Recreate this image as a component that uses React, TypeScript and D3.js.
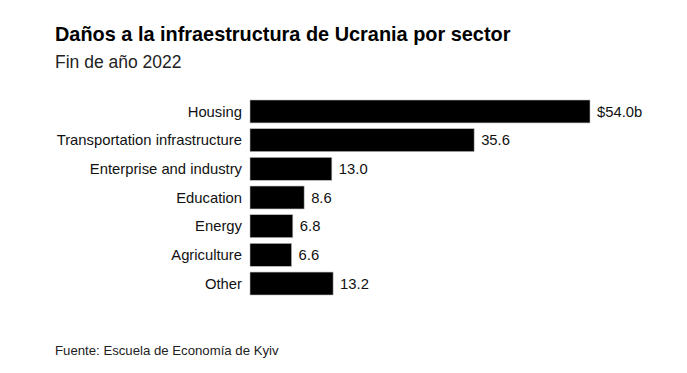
import React, { useEffect, useRef } from 'react';
import * as d3 from 'd3';

const categories = ['Housing', 'Transportation infrastructure', 'Enterprise and industry', 'Education', 'Energy', 'Agriculture', 'Other'];
const values = [54.0, 35.6, 13.0, 8.6, 6.8, 6.6, 13.2];
const valueLabels = ['$54.0b', '35.6', '13.0', '8.6', '6.8', '6.6', '13.2'];

const title = 'Daños a la infraestructura de Ucrania por sector';
const subtitle = 'Fin de año 2022';
const source = 'Fuente: Escuela de Economía de Kyiv';

const W = 687;
const H = 373;
const FONT = '"Liberation Sans", Arial, Helvetica, sans-serif';

const App: React.FC = () => {
  const chartRef = useRef<SVGSVGElement | null>(null);

  useEffect(() => {
    drawChart();
  }, []);

  const drawChart = () => {
    const svg = d3.select(chartRef.current);
    svg.selectAll('*').remove();

    const margin = { top: 100, left: 250 };
    const plotW = 340;
    const plotH = 195;

    svg.append('text').attr('x', 55).attr('y', 41).attr('font-family', FONT).attr('font-weight', 'bold').attr('font-size', 19.9).attr('fill', '#000').text(title);
    svg.append('text').attr('x', 55).attr('y', 68).attr('font-family', FONT).attr('font-size', 17.5).attr('fill', '#222').text(subtitle);

    const g = svg.append('g').attr('transform', `translate(${margin.left},${margin.top})`);

    const x = d3.scaleLinear().domain([0, 54]).range([0, plotW]);
    const y = d3.scaleBand().domain(categories).range([0, plotH]).paddingInner(0.2).paddingOuter(0);

    const data = categories.map((c, i) => ({ cat: c, value: values[i], label: valueLabels[i] }));

    g.selectAll('.bar')
      .data(data)
      .enter()
      .append('rect')
      .attr('class', 'bar')
      .attr('x', 0)
      .attr('y', (d) => y(d.cat)!)
      .attr('width', (d) => x(d.value))
      .attr('height', y.bandwidth())
      .attr('fill', '#000')
      .attr('stroke', '#bbb')
      .attr('stroke-width', 0.6);

    g.selectAll('.cat-label')
      .data(data)
      .enter()
      .append('text')
      .attr('class', 'cat-label')
      .attr('x', -8)
      .attr('y', (d) => y(d.cat)! + y.bandwidth() / 2)
      .attr('dy', '0.35em')
      .attr('text-anchor', 'end')
      .attr('font-family', FONT)
      .attr('font-size', 14.8)
      .attr('fill', '#111')
      .text((d) => d.cat);

    g.selectAll('.val-label')
      .data(data)
      .enter()
      .append('text')
      .attr('class', 'val-label')
      .attr('x', (d) => x(d.value) + 7)
      .attr('y', (d) => y(d.cat)! + y.bandwidth() / 2)
      .attr('dy', '0.35em')
      .attr('font-family', FONT)
      .attr('font-size', 14.8)
      .attr('fill', '#111')
      .text((d) => d.label);

    svg.append('text').attr('x', 55).attr('y', 355).attr('font-family', FONT).attr('font-size', 13.2).attr('fill', '#222').text(source);
  };

  return (
    <svg ref={chartRef} width={W} height={H} style={{ position: 'absolute', left: 0, top: 0, background: '#fff' }}></svg>
  );
};

export default App;
